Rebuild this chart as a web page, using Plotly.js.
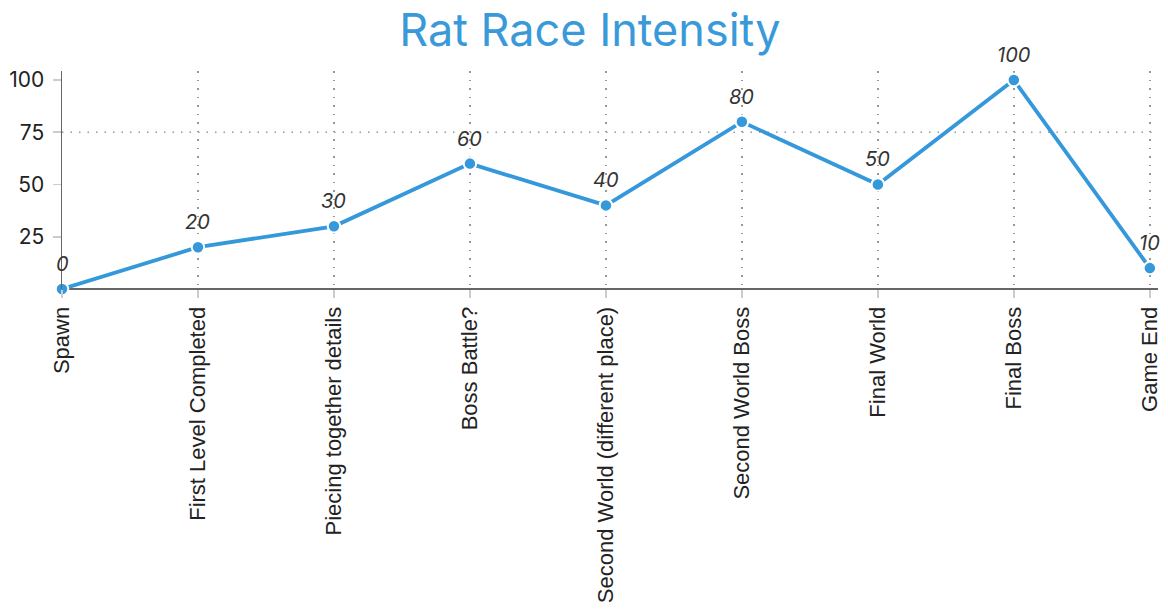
<!DOCTYPE html>
<html><head><meta charset="utf-8">
<script src="https://cdn.plot.ly/plotly-3.0.1.min.js"></script>
<style>html,body{margin:0;padding:0;background:#fff}#chart{width:1168px;height:610px}</style>
</head><body><div id="chart"></div>
<script>
const categories = ["Spawn","First Level Completed","Piecing together details","Boss Battle?","Second World (different place)","Second World Boss","Final World","Final Boss","Game End"];
const intensity = [0,20,30,60,40,80,50,100,10];
const yTicks = [25,50,75,100];
const refLine = 75;

const trace = {
  x: categories, y: intensity, type: 'scatter', mode: 'lines+markers',
  line: {color: '#3498db', width: 3.8},
  marker: {color: '#3498db', size: 12.5, line: {color: '#fff', width: 2}},
  cliponaxis: false, hoverinfo: 'x+y'
};
const labels = categories.map((c, i) => ({
  x: c, y: intensity[i], xref: 'x', yref: 'y', text: String(intensity[i]),
  showarrow: false, yshift: 25,
  font: {family: 'Inter, sans-serif', size: 20, color: '#333', style: 'italic'}
}));
const layout = {
  width: 1168, height: 610,
  margin: {l: 62, r: 10, t: 71, b: 321},
  paper_bgcolor: '#fff', plot_bgcolor: '#fff',
  title: {text: 'Rat Race Intensity', x: 0.505, xanchor: 'center', y: 0.95, yanchor: 'middle',
    font: {family: 'Inter, sans-serif', size: 45, color: '#3a9ad9'}},
  showlegend: false,
  xaxis: {range: [0, 8.06], tickangle: -90, showgrid: true, gridcolor: '#999', griddash: '1.5px,7px', gridwidth: 1.5,
    showline: false, zeroline: false, ticks: 'outside', ticklen: 8, tickcolor: '#ccc', tickwidth: 1.5,
    tickfont: {family: 'Liberation Sans, Arial, sans-serif', size: 22, color: '#222'}},
  yaxis: {range: [0, 104.3], tickvals: yTicks, showgrid: false, zeroline: true, zerolinecolor: '#666', zerolinewidth: 1.5,
    showline: true, linecolor: '#666', linewidth: 1.5,
    ticks: 'outside', ticklen: 8, tickcolor: '#ccc', tickwidth: 1.5, ticklabelstandoff: 4,
    tickfont: {family: 'Inter, sans-serif', size: 21, color: '#222'}},
  annotations: labels,
  shapes: [{type: 'line', xref: 'paper', x0: 0, x1: 1, yref: 'y', y0: refLine, y1: refLine,
    line: {color: '#999', width: 1.5, dash: '1.5px,7px'}, layer: 'below'}]
};
Plotly.newPlot('chart', [trace], layout, {displayModeBar: false, staticPlot: true});
</script></body></html>
